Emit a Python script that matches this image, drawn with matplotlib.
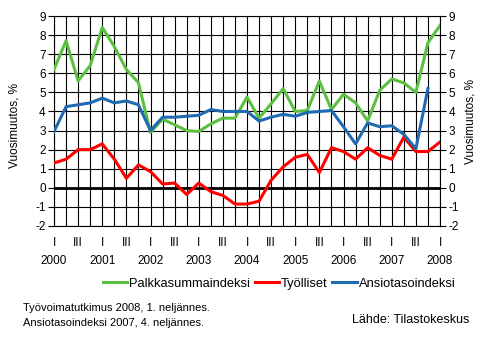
import matplotlib
matplotlib.use("Agg")
import matplotlib.pyplot as plt
import numpy as np

plt.rcParams["font.family"] = ["Liberation Sans", "DejaVu Sans"]

# Quarterly series 2000 I - 2008 I, annual change %
years = [2000, 2001, 2002, 2003, 2004, 2005, 2006, 2007, 2008]
palkkasumma = [6.2, 7.7, 5.6, 6.4, 8.4, 7.4, 6.2, 5.5, 2.9, 3.6, 3.3, 3.0,
               2.95, 3.35, 3.65, 3.65, 4.75, 3.65, 4.4, 5.2, 4.0, 4.05, 5.6,
               4.1, 4.9, 4.45, 3.5, 5.1, 5.7, 5.5, 5.0, 7.6, 8.5]
tyolliset = [1.3, 1.5, 2.0, 2.0, 2.3, 1.5, 0.5, 1.2, 0.85, 0.2, 0.25, -0.35,
             0.25, -0.2, -0.4, -0.85, -0.85, -0.7, 0.4, 1.1, 1.6, 1.75, 0.8,
             2.1, 1.9, 1.5, 2.1, 1.7, 1.5, 2.65, 1.9, 1.9, 2.4]
ansiotaso = [2.95, 4.25, 4.35, 4.45, 4.7, 4.45, 4.55, 4.35, 3.0, 3.7, 3.7,
             3.75, 3.8, 4.1, 4.0, 4.0, 4.0, 3.5, 3.7, 3.85, 3.75, 3.95, 4.0,
             4.05, 3.2, 2.3, 3.4, 3.2, 3.25, 2.8, 2.05, 5.2]

GREEN = "#5bbf3f"
RED = "#ff0000"
BLUE = "#1f6ab0"
FS = 8.5

fig = plt.figure(figsize=(4.95, 3.4), dpi=100)
ax = fig.add_axes([0.1091, 0.3353, 0.7798, 0.6176])

n = len(palkkasumma)
ax.set_xlim(0, n - 1)
ax.set_ylim(-2, 9)
ax.set_xticks(np.arange(n))
ax.set_xticklabels([])
ax.tick_params(axis="x", length=0)
yt = np.arange(-2, 10)
ax.set_yticks(yt)
ax.set_yticklabels([str(v) for v in yt], fontsize=FS)
ax.tick_params(axis="y", length=4, width=0.8, color="black", pad=2,
               right=True, labelright=True)
ax.grid(True, color="black", linewidth=0.8)
for s in ax.spines.values():
    s.set_linewidth(0.8)
ax.axhline(0, color="black", linewidth=2, zorder=2)

lw = 2.2
ax.plot(np.arange(len(palkkasumma)), palkkasumma, color=GREEN, lw=lw,
        label="Palkkasummaindeksi", zorder=3)
ax.plot(np.arange(len(tyolliset)), tyolliset, color=RED, lw=lw,
        label="Työlliset", zorder=3)
ax.plot(np.arange(len(ansiotaso)), ansiotaso, color=BLUE, lw=lw,
        label="Ansiotasoindeksi", zorder=3)

# quarter markers and years under the axis
tr = ax.get_xaxis_transform()
for q in range(0, n, 2):
    ax.text(q, -0.081, "I" if q % 4 == 0 else "III", transform=tr,
            ha="center", va="center", fontsize=FS)
for i, yr in enumerate(years):
    ax.text(i * 4, -0.167, str(yr), transform=tr, ha="center",
            va="center", fontsize=FS)

fig.text(0.03, 0.63, "Vuosimuutos, %", rotation=90, ha="center",
         va="center", fontsize=FS)
fig.text(0.95, 0.644, "Vuosimuutos, %", rotation=90, ha="center",
         va="center", fontsize=FS)

fig.legend(loc="center", bbox_to_anchor=(0.564, 0.165), ncol=3,
           frameon=False, fontsize=9.3, handlelength=1.9, handletextpad=0.15,
           columnspacing=0.35, borderaxespad=0)

fig.text(0.046, 0.094, "Työvoimatutkimus 2008, 1. neljännes.", fontsize=8,
         va="center")
fig.text(0.046, 0.05, "Ansiotasoindeksi 2007, 4. neljännes.", fontsize=8,
         va="center")
fig.text(0.949, 0.059, "Lähde: Tilastokeskus", fontsize=9, ha="right",
         va="center")

fig.savefig("out.png", dpi=100)
